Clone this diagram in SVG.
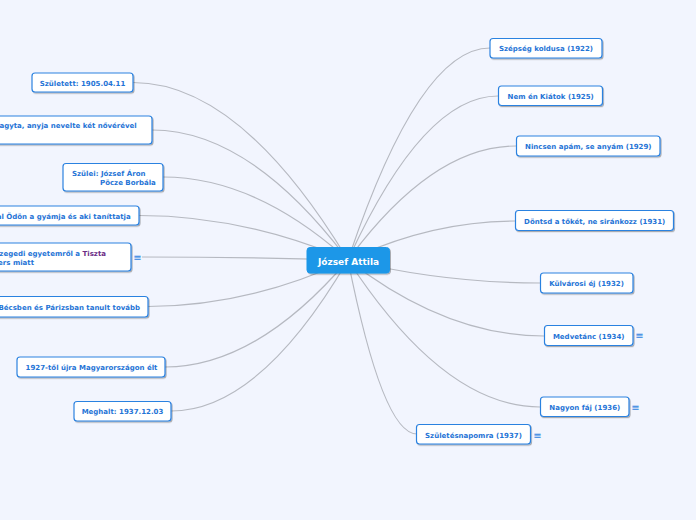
<svg xmlns="http://www.w3.org/2000/svg" width="696" height="520" viewBox="0 0 696 520">
<defs>
<filter id="sh" x="-10%" y="-30%" width="120%" height="160%">
<feDropShadow dx="1" dy="1.2" stdDeviation="0.7" flood-color="#000" flood-opacity="0.3"/>
</filter>
</defs>
<style>
.bg{fill:#f2f5fe}
.box{fill:#ffffff;stroke:#2c82e0;stroke-width:1.2;filter:url(#sh)}
.root{fill:#1d97e8;stroke:#1d97e8;filter:url(#sh)}
.t{font-family:"DejaVu Sans",Verdana,sans-serif;font-weight:bold;font-size:7px;fill:#1f74d6}
.rt{font-family:"DejaVu Sans",Verdana,sans-serif;font-weight:bold;font-size:9px;fill:#ffffff}
.pu{fill:#6b2d86}
.ic{font-family:"DejaVu Sans",sans-serif;font-size:10px;fill:#2c82e0}
.c{fill:none;stroke:#b6b9c1;stroke-width:1.2}
</style>
<rect class="bg" x="0" y="0" width="696" height="520"/>
<g id="connectors">
<path class="c" d="M348,260 Q240.5,82.5 133,82.5"/>
<path class="c" d="M348,260 Q250,130 152,130"/>
<path class="c" d="M348,260 Q255.5,177 163,177"/>
<path class="c" d="M348,260 Q243.5,215.5 139,215.5"/>
<path class="c" d="M348,260 Q245,257 142,257"/>
<path class="c" d="M348,260 Q248,306.5 148,306.5"/>
<path class="c" d="M348,260 Q256.5,367 165,367"/>
<path class="c" d="M348,260 Q259.5,411 171,411"/>
<path class="c" d="M348,260 Q419,48 490,48"/>
<path class="c" d="M348,260 Q423,96 498,96"/>
<path class="c" d="M348,260 Q432,146 516,146"/>
<path class="c" d="M348,260 Q431.5,221 515,221"/>
<path class="c" d="M348,260 Q444,283 540,283"/>
<path class="c" d="M348,260 Q446,336 544,336"/>
<path class="c" d="M348,260 Q444,407 540,407"/>
<path class="c" d="M348,260 Q382.5,434 417,434"/>
</g>
<g id="root">
<rect class="root" x="307" y="247.5" width="82.5" height="25.5" rx="3"/>
<text class="rt" x="348.5" y="264.5" text-anchor="middle">József Attila</text>
</g>
<g id="l1">
<rect class="box" x="32" y="73" width="101" height="19" rx="3"/>
<text class="t" x="82.5" y="85.5" text-anchor="middle">Született: 1905.04.11</text>
</g>
<g id="l2">
<rect class="box" x="-20" y="116" width="172" height="28" rx="3"/>
<text class="t" x="136.7" y="127.5" text-anchor="end">agyta, anyja nevelte két nővérével</text>
</g>
<g id="l3">
<rect class="box" x="63" y="163.5" width="100" height="27.5" rx="3"/>
<text class="t" x="72" y="175.5">Szülei: József Áron</text>
<text class="t" x="100" y="184.5">Pöcze Borbála</text>
</g>
<g id="l4">
<rect class="box" x="-20" y="206" width="159" height="19" rx="3"/>
<text class="t" x="130.7" y="218.5" text-anchor="end">al Ödön a gyámja és aki taníttatja</text>
</g>
<g id="l5">
<rect class="box" x="-20" y="243" width="151" height="28" rx="3"/>
<text class="t" x="106" y="256" text-anchor="end">Szegedi egyetemről a <tspan class="pu">Tiszta</tspan></text>
<text class="t" x="34" y="264.5" text-anchor="end">ers miatt</text>
<text class="ic" x="137.5" y="260.5" text-anchor="middle">≡</text>
</g>
<g id="l6">
<rect class="box" x="-20" y="296.5" width="168" height="20.5" rx="3"/>
<text class="t" x="140" y="309.5" text-anchor="end">Bécsben és Párizsban tanult tovább</text>
</g>
<g id="l7">
<rect class="box" x="17" y="357" width="148" height="20" rx="3"/>
<text class="t" x="91.5" y="369.5" text-anchor="middle">1927-től újra Magyarországon élt</text>
</g>
<g id="l8">
<rect class="box" x="74" y="401.5" width="97" height="19.5" rx="3"/>
<text class="t" x="122.5" y="414" text-anchor="middle">Meghalt: 1937.12.03</text>
</g>
<g id="r1">
<rect class="box" x="490" y="38.5" width="112" height="19.5" rx="3"/>
<text class="t" x="546" y="51" text-anchor="middle">Szépség koldusa (1922)</text>
</g>
<g id="r2">
<rect class="box" x="498.5" y="86" width="104" height="19.5" rx="3"/>
<text class="t" x="550.7" y="99" text-anchor="middle">Nem én Kiátok (1925)</text>
</g>
<g id="r3">
<rect class="box" x="516.5" y="136" width="143.5" height="20" rx="3"/>
<text class="t" x="588.3" y="149" text-anchor="middle">Nincsen apám, se anyám (1929)</text>
</g>
<g id="r4">
<rect class="box" x="515.5" y="210.5" width="158" height="20" rx="3"/>
<text class="t" x="594.7" y="223.5" text-anchor="middle">Döntsd a tőkét, ne siránkozz (1931)</text>
</g>
<g id="r5">
<rect class="box" x="540.5" y="273" width="92.5" height="20" rx="3"/>
<text class="t" x="586.5" y="286" text-anchor="middle">Külvárosi éj (1932)</text>
</g>
<g id="r6">
<rect class="box" x="544.5" y="325.5" width="88.5" height="20" rx="3"/>
<text class="t" x="588.7" y="338.5" text-anchor="middle">Medvetánc (1934)</text>
<text class="ic" x="639.5" y="338.5" text-anchor="middle">≡</text>
</g>
<g id="r7">
<rect class="box" x="540.5" y="397" width="88.5" height="19.5" rx="3"/>
<text class="t" x="584.8" y="409.5" text-anchor="middle">Nagyon fáj (1936)</text>
<text class="ic" x="635.5" y="410.5" text-anchor="middle">≡</text>
</g>
<g id="r8">
<rect class="box" x="416.5" y="424.5" width="114" height="19.5" rx="3"/>
<text class="t" x="473.5" y="437.5" text-anchor="middle">Születésnapomra (1937)</text>
<text class="ic" x="537.5" y="438.5" text-anchor="middle">≡</text>
</g>
</svg>
